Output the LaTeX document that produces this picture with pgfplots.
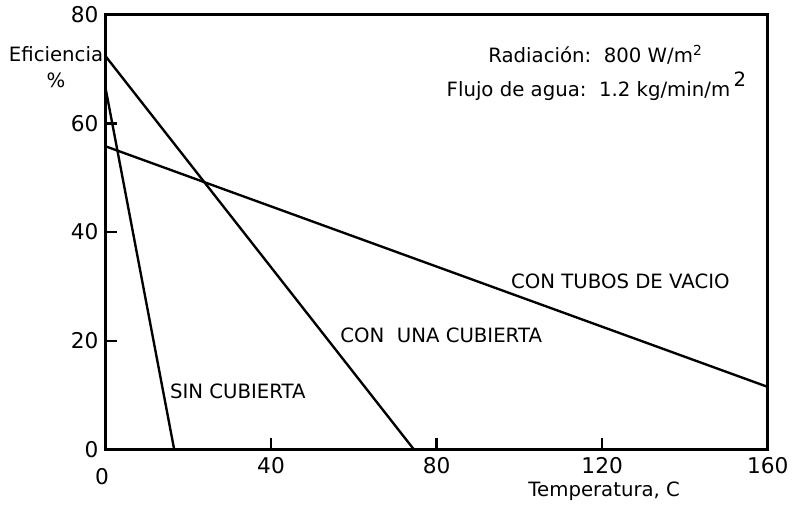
\documentclass[border=0pt]{standalone}
\usepackage{fontspec}
\setmainfont{DejaVu Sans}
\usepackage{pgfplots}
\pgfplotsset{compat=1.18}
\begin{document}
\begin{tikzpicture}
\begin{axis}[
  scale only axis,
  width=336pt, height=220.5pt,
  xmin=0, xmax=160, ymin=0, ymax=80,
  xtick={0,40,80,120,160}, ytick={0,20,40,60,80},
  xticklabels={,40,80,120,\raisebox{1.5pt}{160}},
  xtick pos=lower, ytick pos=left,
  tick align=inside, major tick length=6pt,
  axis line style={line width=1.6pt},
  tick style={line width=1.2pt, black},
  ticklabel style={font=\fontsize{11}{12}\selectfont},
  xticklabel style={yshift=-0.5pt},
  /pgf/number format/assume math mode=true,
  clip=false,
]
\addplot[black, line width=1.2pt] coordinates {(0,66.6) (16.6,0)};
\addplot[black, line width=1.2pt] coordinates {(0,72.4) (74.5,0)};
\addplot[black, line width=1.2pt] coordinates {(0,55.8) (160,11.5)};

\node[font=\fontsize{11}{12}\selectfont] at (axis cs:-0.8,-5.1) {0};
\node[font=\fontsize{10}{12}\selectfont] at (axis cs:32,10.7) {SIN CUBIERTA};
\node[font=\fontsize{10}{12}\selectfont] at (axis cs:81.1,21) {CON\ \ UNA CUBIERTA};
\node[font=\fontsize{10}{12}\selectfont] at (axis cs:124.4,31) {CON TUBOS DE VACIO};
\node[font=\fontsize{10}{12}\selectfont] at (axis cs:118.4,72.6) {Radiación:\ \ 800 W/m\textsuperscript{2}};
\node[font=\fontsize{10}{12}\selectfont] at (axis cs:118.6,66.8) {Flujo de agua:\ \ 1.2 kg/min/m\,\raisebox{5pt}{2}};
\node[font=\fontsize{10}{12}\selectfont, align=center, anchor=north east, inner sep=0pt, xshift=-1pt] at (axis cs:0,74.2) {Eficiencia\\[1pt]\%};
\node[font=\fontsize{10}{12}\selectfont] at (axis cs:120.5,-7.7) {Temperatura, C};
\end{axis}
\path ([shift={(-53.5pt,-25pt)}]current axis.south west) rectangle ([shift={(8pt,7pt)}]current axis.north east);
\end{tikzpicture}
\end{document}
